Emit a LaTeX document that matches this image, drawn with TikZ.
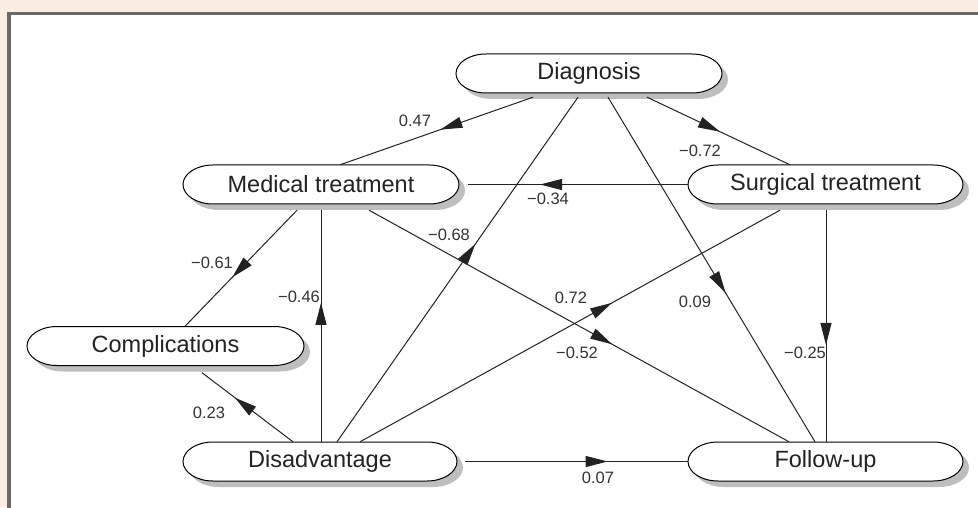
\documentclass[tikz,border=0pt]{standalone}
\usepackage{fontspec}
\setmainfont{Liberation Sans}
\usetikzlibrary{arrows.meta,decorations.markings}
\definecolor{peach}{RGB}{252,237,226}
\definecolor{framegray}{RGB}{105,105,105}
\definecolor{shadowgray}{RGB}{190,190,190}
\definecolor{inkgray}{RGB}{34,34,34}
\definecolor{labgray}{RGB}{51,51,51}
\tikzset{
  capline/.style={draw=black,line width=1pt,fill=white},
  captext/.style={draw=none,inner sep=0pt,minimum height=39pt,text=inkgray,font=\fontsize{23.5}{28}\selectfont},
  conn/.style={draw=inkgray,line width=1pt},
  arr/.style={postaction={decorate,decoration={markings,mark=at position #1 with {\arrow{Triangle[length=22pt,width=11pt]}}}}},
  lab/.style={inner sep=0pt,text=labgray,font=\fontsize{16.5}{19}\selectfont}
}
\newcommand\capsule[5]{%
  \fill[shadowgray] ({#2-#4+36},{#3+13.5}) -- ({#2+#4-24},{#3+13.5})
     arc[start angle=90,end angle=-90,x radius=30pt,y radius=19.5pt]
     -- ({#2-#4+36},{#3-25.5})
     arc[start angle=270,end angle=90,x radius=30pt,y radius=19.5pt] -- cycle;
  \path[capline] ({#2-#4+30},{#3+19.5}) -- ({#2+#4-30},{#3+19.5})
     arc[start angle=90,end angle=-90,x radius=30pt,y radius=19.5pt]
     -- ({#2-#4+30},{#3-19.5})
     arc[start angle=270,end angle=90,x radius=30pt,y radius=19.5pt] -- cycle;
  \node[captext,minimum width={2*#4}] (#1) at (#2,#3) {#5};}
\begin{document}
\begin{tikzpicture}[x=1pt,y=1pt]
\useasboundingbox (0,0) rectangle (978,507);
\fill[peach] (0,0) rectangle (978,507);
\fill[white] (9,0) rectangle (978,493.7);
\draw[framegray,line width=3.2pt] (9,-2) -- (9,493.7) -- (980,493.7);
% nodes
\capsule{diag}{589}{433.5}{133}{Diagnosis}
\capsule{med}{321}{322.5}{138}{Medical treatment}
\capsule{surg}{825.5}{322.5}{137.5}{Surgical treatment}
\capsule{comp}{165.5}{161}{138.5}{Complications}
\capsule{dis}{320}{45.5}{137}{Disadvantage}
\capsule{fu}{825.5}{45.5}{137.5}{Follow-up}
% connectors
\draw[conn,arr=0.48] ([xshift=-56pt,yshift=-4pt]diag.south) -- ([xshift=19pt]med.north);
\draw[conn,arr=0.51] ([xshift=58pt,yshift=-4pt]diag.south) -- ([xshift=-35.5pt]surg.north);
\draw[conn,arr=0.574] ([xshift=17pt]dis.north) -- ([xshift=-11pt,yshift=-4pt]diag.south);
\draw[conn,arr=0.568] ([xshift=19pt,yshift=-4pt]diag.south) -- ([xshift=-10.5pt]fu.north);
\draw[conn,arr=0.673] (surg.west) -- ([xshift=9pt]med.east);
\draw[conn,arr=0.582] ([xshift=0.5pt,yshift=-6pt]surg.south) -- ([xshift=0.5pt]fu.north);
\draw[conn,arr=0.60] ([xshift=40pt]dis.north) -- ([xshift=-45.5pt,yshift=-6pt]surg.south);
\draw[conn,arr=0.579] ([xshift=48pt,yshift=-6pt]med.south) -- ([xshift=-36.5pt]fu.north);
\draw[conn,arr=0.578] ([xshift=-24pt,yshift=-6pt]med.south) -- ([xshift=19.5pt]comp.north);
\draw[conn,arr=0.60] ([xshift=1pt]dis.north) -- ([yshift=-6pt]med.south);
\draw[conn,arr=0.637] ([xshift=-27pt]dis.north) -- ([xshift=36.5pt,yshift=-7pt]comp.south);
\draw[conn,arr=0.64] ([xshift=8pt]dis.east) -- (fu.west);
% labels
\node[lab] (l47) at (415,386) {0.47};
\node[lab] (l72a) at (700,356) {−0.72};
\node[lab] (l34) at (548,308) {−0.34};
\node[lab] (l61) at (212,244) {−0.61};
\node[lab] (l68) at (449,272) {−0.68};
\node[lab] (l46) at (299,210) {−0.46};
\node[lab] (l72) at (571,209) {0.72};
\node[lab] (l09) at (695,205) {0.09};
\node[lab] (l52) at (577,154) {−0.52};
\node[lab] (l25) at (805,154) {−0.25};
\node[lab] (l23) at (209,94) {0.23};
\node[lab] (l07) at (598,29) {0.07};
\end{tikzpicture}
\end{document}
